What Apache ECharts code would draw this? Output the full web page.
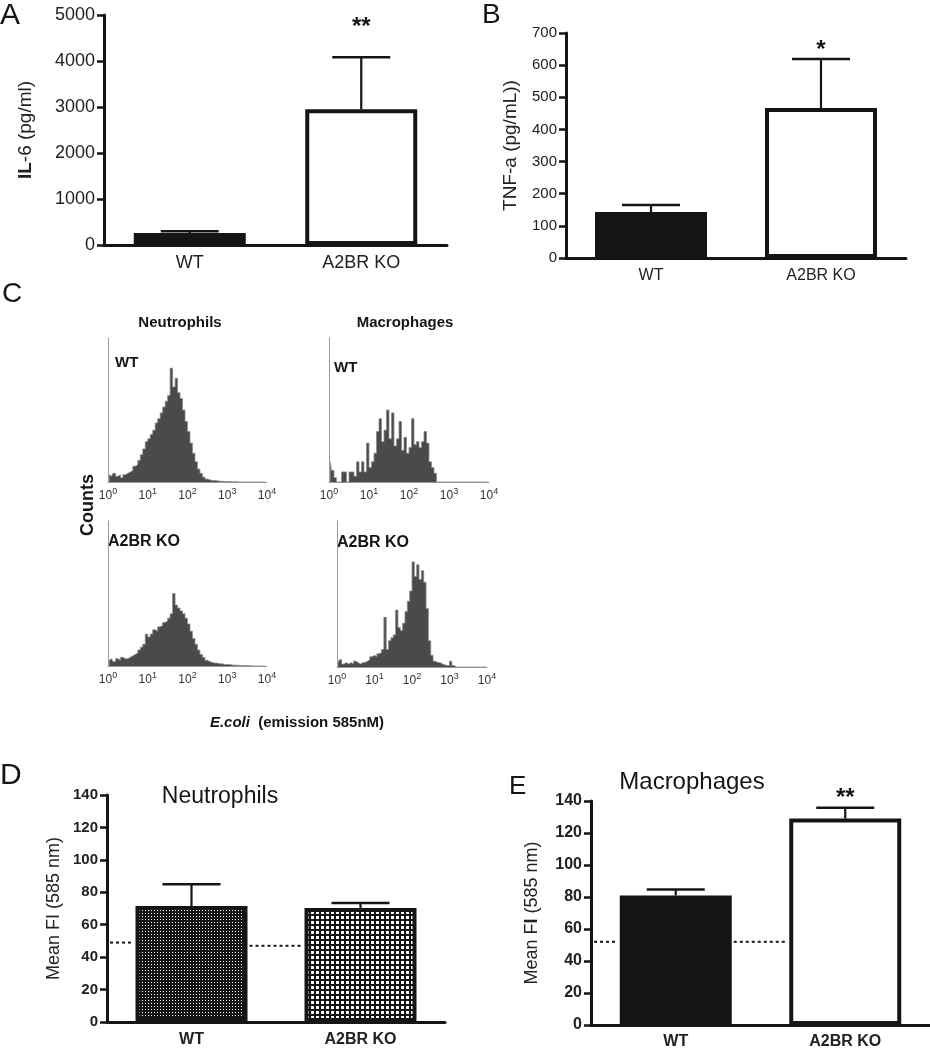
<!DOCTYPE html>
<html><head><meta charset="utf-8">
<script src="https://cdn.jsdelivr.net/npm/echarts@6/dist/echarts.min.js"></script>
<style>html,body{margin:0;padding:0;background:#fff}#c{width:930px;height:1050px}</style>
</head><body><div id="c"></div>
<script>
// ---------------- data ----------------
const groups = ['WT', 'A2BR KO'];
// A: IL-6 (pg/ml)
const il6Mean = [260, 2950];
const il6Sem = [40, 1130];
const il6Stars = ['', '**'];
const il6Ticks = [0, 1000, 2000, 3000, 4000, 5000];
// B: TNF-a (pg/mL)
const tnfMean = [143, 467];
const tnfSem = [22, 152];
const tnfStars = ['', '*'];
const tnfTicks = [0, 100, 200, 300, 400, 500, 600, 700];
// D: Neutrophils mean FI
const neuMean = [71.5, 70.3];
const neuSem = [13.5, 3.1];
const neuStars = ['', ''];
const neuBaseline = [49, 47];
// E: Macrophages mean FI
const macMean = [81, 129];
const macSem = [3.7, 6.8];
const macStars = ['', '**'];
const macBaseline = [52, 52];
const fiTicks = [0, 20, 40, 60, 80, 100, 120, 140];
// C: flow histograms, 16 bins per decade, 10^0..10^4 (relative counts, % of axis)
const decadeTicks = [0, 1, 2, 3, 4];
const BINS_PER_DECADE = 16;
const histNeuWT = [5,4,6,4,5,3,5,6, 7,8,11,12,15,19,23,28, 30,33,36,41,44,48,52,56, 60,79,66,72,62,58,50,42,
  35,27,20,14,9,6,3.5,2, 1.5,1,1,0.8,0.5,0.5,0.3,0.3, 0.3,0.2,0.2,0.1,0,0,0,0, 0,0,0,0,0,0,0,0];
const histMacWT = [14,8,3,0,0,7,7,0, 7,7,4,14,7,14,7,27, 10,14,20,35,44,28,36,50, 30,48,25,30,42,22,31,20,
  24,44,26,28,24,28,35,27, 14,10,6,0,0,0,0,0, 0,0,0,0,0,0,0,0, 0,0,0,0,0,0,0,0];
const histNeuKO = [4,5,3,5,4,6,5,5, 6,7,8,9,11,13,15,22, 20,22,25,24,27,28,30,31, 33,36,50,42,40,38,36,33,
  29,24,19,15,11,8,6,4, 3,2.5,2,2,1.5,1.5,1,1, 1,0.7,0.5,0.5,0.4,0.3,0.3,0.3, 0.2,0.2,0,0,0,0,0,0];
const histMacKO = [3,5,2,3,2,3,2,4, 3,2,3,3,4,5,7,8, 7,9,10,12,34,12,18,20, 22,39,27,25,30,38,45,52,
  72,62,70,60,66,58,40,18, 8,4,3,3,2,1.5,1,1, 4,1,0,0,0,0,0,0, 0,0,0,0,0,0,0,0];

// ---------------- helpers ----------------
const FONT = "'Liberation Sans', Arial, Helvetica, sans-serif";
const INK = '#151515';

function makePattern(period, size) {
  const cv = document.createElement('canvas');
  cv.width = period; cv.height = period;
  const ctx = cv.getContext('2d');
  ctx.fillStyle = INK; ctx.fillRect(0, 0, period, period);
  ctx.fillStyle = '#fff'; ctx.fillRect(1, 1, size, size);
  return { image: cv, repeat: 'repeat' };
}
const patFine = makePattern(3, 1);
const patCoarse = makePattern(5, 3);

function catAxis(idx, fontSize, bold, margin) {
  return {
    type: 'category', gridIndex: idx, data: groups,
    axisLine: { lineStyle: { color: INK, width: 3 } },
    axisTick: { alignWithLabel: true, length: 7, lineStyle: { color: INK, width: 3 } },
    axisLabel: { fontFamily: FONT, fontSize, fontWeight: bold ? 'bold' : 'normal', color: '#222', margin }
  };
}
function valAxis(idx, ticks, fontSize, bold, name, nameGap, nameSize, rich) {
  return {
    type: 'value', gridIndex: idx, min: ticks[0], max: ticks[ticks.length - 1],
    interval: ticks[1] - ticks[0],
    axisLine: { show: true, lineStyle: { color: INK, width: 3 } },
    axisTick: { show: true, length: 7, lineStyle: { color: INK, width: 2.5 } },
    splitLine: { show: false },
    axisLabel: { fontFamily: FONT, fontSize, fontWeight: bold ? 'bold' : 'normal', color: '#222', margin: 9,
      formatter: v => String(v) },
    name, nameLocation: 'middle', nameGap,
    nameTextStyle: { fontFamily: FONT, fontSize: nameSize, color: '#222', rich: rich || {} }
  };
}
function barSeries(idx, means, colors) {
  return {
    type: 'bar', xAxisIndex: idx, yAxisIndex: idx, barWidth: 112, z: 3,
    data: means.map((v, k) => ({ value: v, itemStyle: { color: colors[k] } })),
    itemStyle: { borderColor: INK, borderWidth: 4 },
    emphasis: { disabled: true }, silent: true
  };
}
function errSeries(idx, means, sems, stars, starGap, starSize) {
  return {
    type: 'custom', xAxisIndex: idx, yAxisIndex: idx, z: 5, silent: true,
    data: means.map((m, i) => [i, m, m + sems[i]]),
    renderItem(params, api) {
      const c0 = api.coord([api.value(0), api.value(1)]);
      const c1 = api.coord([api.value(0), api.value(2)]);
      const half = 29;
      const ch = [
        { type: 'line', shape: { x1: c0[0], y1: c0[1], x2: c1[0], y2: c1[1] }, style: { stroke: INK, lineWidth: 2.2 } },
        { type: 'line', shape: { x1: c1[0] - half, y1: c1[1], x2: c1[0] + half, y2: c1[1] }, style: { stroke: INK, lineWidth: 2.5 } }
      ];
      const s = stars[params.dataIndex];
      if (s) ch.push({ type: 'text', style: { text: s, x: c1[0], y: c1[1] - starGap, align: 'center', verticalAlign: 'middle',
        font: 'bold ' + starSize + 'px ' + FONT, fill: INK } });
      return { type: 'group', children: ch };
    }
  };
}
function baselineSeries(idx, levels) {
  return {
    type: 'custom', xAxisIndex: idx, yAxisIndex: idx, z: 1, silent: true,
    data: levels.map((v, i) => [i, v]),
    renderItem(params, api) {
      const i = params.dataIndex;
      const c = api.coord([i, api.value(1)]);
      const half = 58;
      const x1 = i === 0 ? params.coordSys.x + 3 : api.coord([i - 1, 0])[0] + half;
      return { type: 'line', shape: { x1, y1: c[1], x2: c[0] - half, y2: c[1] },
        style: { stroke: INK, lineWidth: 2, lineDash: [3, 3] } };
    }
  };
}
function histXAxis(idx) {
  return {
    type: 'value', gridIndex: idx, min: decadeTicks[0], max: decadeTicks[decadeTicks.length - 1], interval: 1,
    axisLine: { show: true, lineStyle: { color: '#9a9a9a', width: 1 } },
    axisTick: { show: false }, splitLine: { show: false },
    axisLabel: {
      margin: 5, formatter: v => '{a|10}{b|' + v + '}',
      rich: { a: { fontFamily: FONT, fontSize: 12, color: '#333', verticalAlign: 'bottom' },
              b: { fontFamily: FONT, fontSize: 9, color: '#333', verticalAlign: 'bottom', padding: [0, 0, 6, 0] } }
    }
  };
}
function histYAxis(idx) {
  return {
    type: 'value', gridIndex: idx, min: 0, max: 100,
    axisLine: { show: true, lineStyle: { color: '#9a9a9a', width: 1 } },
    axisTick: { show: false }, axisLabel: { show: false }, splitLine: { show: false }
  };
}
function histSeries(idx, counts) {
  return {
    type: 'line', xAxisIndex: idx, yAxisIndex: idx, step: 'middle', showSymbol: false, silent: true,
    data: counts.map((v, i) => [(i + 0.5) / BINS_PER_DECADE, v]),
    lineStyle: { color: '#8a8a8a', width: 0.8 },
    areaStyle: { color: '#4a4a4a', opacity: 1 }
  };
}
function txt(x, y, text, font, align, extra) {
  return Object.assign({ type: 'text', x, y, silent: true,
    style: Object.assign({ text, font, fill: INK, align: align || 'center', verticalAlign: 'middle' }, (extra && extra.style) || {}) },
    extra && extra.rotation ? { rotation: extra.rotation } : {});
}

// ---------------- option ----------------
const chart = echarts.init(document.getElementById('c'), null, { renderer: 'canvas' });
const option = {
  backgroundColor: '#fff',
  animation: false,
  grid: [
    { left: 104, top: 15, width: 343, height: 230 },   // A
    { left: 566, top: 33, width: 340, height: 225 },   // B
    { left: 108, top: 338, width: 159, height: 144 },  // C neu WT
    { left: 329, top: 338, width: 160, height: 144 },  // C mac WT
    { left: 108, top: 521, width: 159, height: 145 },  // C neu KO
    { left: 337, top: 521, width: 150, height: 146 },  // C mac KO
    { left: 107, top: 795, width: 338, height: 227 },  // D
    { left: 591, top: 801, width: 340, height: 225 }   // E
  ],
  xAxis: [
    catAxis(0, 18, false, 9),
    catAxis(1, 16, false, 10),
    histXAxis(2), histXAxis(3), histXAxis(4), histXAxis(5),
    catAxis(6, 16, true, 10),
    catAxis(7, 16, true, 9)
  ],
  yAxis: [
    valAxis(0, il6Ticks, 18, false, '{b|IL}-6 (pg/ml)', 69, 19, { b: { fontFamily: FONT, fontSize: 19, fontWeight: 'bold', color: '#222' } }),
    valAxis(1, tnfTicks, 15, false, 'TNF-a (pg/mL))', 46, 19),
    histYAxis(2), histYAxis(3), histYAxis(4), histYAxis(5),
    valAxis(6, fiTicks, 15, true, 'Mean FI (585 nm)', 44, 18),
    valAxis(7, fiTicks, 16, true, 'Mean F{b|I} (585 nm)', 50, 18, { b: { fontFamily: FONT, fontSize: 18, fontWeight: 'bold', color: '#222' } })
  ],
  series: [
    barSeries(0, il6Mean, [INK, '#fff']),
    errSeries(0, il6Mean, il6Sem, il6Stars, 30, 24),
    barSeries(1, tnfMean, [INK, '#fff']),
    errSeries(1, tnfMean, tnfSem, tnfStars, 9, 24),
    histSeries(2, histNeuWT), histSeries(3, histMacWT), histSeries(4, histNeuKO), histSeries(5, histMacKO),
    baselineSeries(6, neuBaseline),
    barSeries(6, neuMean, [patFine, patCoarse]),
    errSeries(6, neuMean, neuSem, neuStars, 10, 24),
    baselineSeries(7, macBaseline),
    barSeries(7, macMean, [INK, '#fff']),
    errSeries(7, macMean, macSem, macStars, 9, 24)
  ],
  graphic: [
    txt(0, 16, 'A', '30px ' + FONT, 'left'),
    txt(482, 15, 'B', '28px ' + FONT, 'left'),
    txt(2, 294, 'C', '28px ' + FONT, 'left'),
    txt(0, 776, 'D', '30px ' + FONT, 'left'),
    txt(509, 787, 'E', '26px ' + FONT, 'left'),
    txt(180, 323, 'Neutrophils', 'bold 15px ' + FONT),
    txt(405, 323, 'Macrophages', 'bold 15px ' + FONT),
    txt(115, 363, 'WT', 'bold 15px ' + FONT, 'left'),
    txt(334, 368, 'WT', 'bold 15px ' + FONT, 'left'),
    txt(108, 542, 'A2BR KO', 'bold 16px ' + FONT, 'left'),
    txt(337, 543, 'A2BR KO', 'bold 16px ' + FONT, 'left'),
    txt(88, 505, 'Counts', 'bold 18px ' + FONT, 'center', { rotation: Math.PI / 2 }),
    txt(297, 723, '{i|E.coli}  (emission 585nM)', 'bold 15px ' + FONT, 'center',
      { style: { rich: { i: { fontFamily: FONT, fontSize: 15, fontWeight: 'bold', fontStyle: 'italic', fill: INK } } } }),
    txt(220, 797, 'Neutrophils', '23px ' + FONT),
    txt(692, 782, 'Macrophages', '24px ' + FONT)
  ]
};
chart.setOption(option);
</script>
</body></html>
